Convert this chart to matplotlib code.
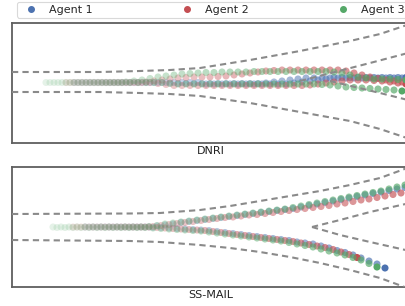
import matplotlib
matplotlib.use('Agg')
import matplotlib.pyplot as plt
import numpy as np
from matplotlib.colors import to_rgba
from matplotlib.lines import Line2D

# agent colours (seaborn "deep")
agent_names = ['Agent 1', 'Agent 2', 'Agent 3']
agent_colors = ['#4C72B0', '#C44E52', '#55A868']

# ---------------- DNRI panel (two rollouts per agent) ----------------
dnri_blue_a_x = [74, 82, 90, 98, 106, 114, 122, 130, 138, 146, 154, 162, 170, 178, 186, 194, 202, 210, 218, 226, 234, 242,
                 250, 258, 266, 274, 282, 290, 298, 306, 314, 322, 330, 338, 346, 354, 362, 370, 378, 386, 394, 402, 410]
dnri_blue_a_y = [82.5] * 12 + [83] + [83.5] * 11 + [83, 82, 81, 80, 79] + [78] * 14
dnri_blue_b_x = [78, 86, 94, 102, 110, 118, 126, 134, 142, 150, 158, 166, 174, 182, 190, 198, 206, 214, 222, 230, 238, 246,
                 254, 262, 270, 278, 286, 294, 302, 310, 318, 326, 334, 342, 350, 358, 366, 374, 382, 390, 398, 406]
dnri_blue_b_y = [82.5] * 16 + [84] * 11 + [83, 82, 81, 80, 79] + [77.5] * 10

dnri_red_a_x = [66, 74, 82, 90, 98, 106, 114, 122, 130, 138, 146, 154, 162, 170, 178, 186, 194, 202, 210, 218, 226, 234,
                242, 250, 258, 266, 274, 282, 290, 298, 306, 314, 322, 330, 338, 346, 354, 362, 370, 378, 386, 394, 402, 410]
dnri_red_a_y = ([82.5] * 10 + [82, 81, 80, 79, 78, 77.5] + [77] * 3 + [76.5, 76, 75, 74, 73, 72, 71, 70.5] + [70] * 8
                + [71, 73, 75, 77, 78.5, 80, 81, 82, 83])
dnri_red_b_x = [70, 78, 86, 94, 102, 110, 118, 126, 134, 142, 150, 158, 166, 174, 182, 190, 198, 206, 214, 222, 230, 238,
                246, 254, 262, 270, 278, 286, 294, 302, 310, 318, 326, 334, 342, 350, 358, 366, 374, 382, 390, 398, 406]
dnri_red_b_y = [82.5] * 11 + [83.5, 84.5] + [85.5] * 17 + [85, 84, 83, 82, 81, 80, 80, 80, 80.5, 81, 82, 83, 84]

dnri_green_a_x = [46, 54, 62, 70, 78, 86, 94, 102, 110, 118, 126, 134, 142, 150, 158, 166, 174, 182, 190, 198, 206, 214,
                  222, 230, 238, 246, 254, 262, 270, 278, 286, 294, 302, 310, 318, 326, 334, 342, 350, 358, 366, 374,
                  382, 390, 398, 406]
dnri_green_a_y = ([82.5] * 10 + [82, 81, 80, 78.5, 77, 76, 75, 74, 73.5, 73]
                  + [72.5, 72.5, 72, 72, 72, 72] + [71.5] * 10 + [72, 73, 75, 77, 78, 79, 79, 79, 79.5, 80])
dnri_green_b_x = [50, 58, 66, 74, 82, 90, 98, 106, 114, 122, 130, 138, 146, 154, 162, 170, 178, 186, 194, 202, 210, 218,
                  226, 234, 242, 250, 258, 266, 274, 282, 290, 298, 306, 314, 322, 330, 338, 346, 354, 362, 370, 378,
                  386, 394, 402]
dnri_green_b_y = [82.5] * 15 + [83.5] + [84] * 18 + [84.5, 85, 86, 87, 87.5, 88, 88.5, 89, 89.5, 90, 91]

# ---------------- SS-MAIL panel ----------------
mail_blue_a_x = [85, 93, 101, 109, 117, 125, 133, 141, 149, 157, 165, 173, 181, 189, 197, 205, 213, 221, 229, 237, 245,
                 253, 261, 269, 277, 285, 293, 301, 309, 317, 325, 333, 341, 349, 357, 365, 373, 381, 389, 397, 405,
                 413, 421]
mail_blue_a_y = ([227] * 9 + [226, 225, 224, 222.5, 221.5, 220.5, 219.5, 218.5, 217.5, 216.5, 215.5, 214.5, 213.5,
                  212.5, 211.5, 210.5, 209.5, 208.5, 207, 205.5, 204, 202.5, 201, 199.5, 198, 196.5, 195, 193.5,
                  192, 190.5, 189, 187.5, 186, 184.5])
mail_blue_b_x = [89, 97, 105, 113, 121, 129, 137, 145, 153, 161, 169, 177, 185, 193, 201, 209, 217, 225, 233, 241, 249,
                 257, 265, 273, 281, 289, 297, 305, 313, 321, 329, 337, 345, 353, 361, 369, 377, 385]
mail_blue_b_y = ([227] * 8 + [227.3, 227.5, 228, 228.5, 229, 229.5, 230, 230.5, 231.5, 232.5, 233.5, 234.5, 235.5,
                  236.5, 237.5, 238.5, 239.5, 240.5, 242, 243, 244, 246, 248, 250.5, 252.5, 255, 258, 261, 264, 268])

mail_red_a_x = [73, 81, 89, 97, 105, 113, 121, 129, 137, 145, 153, 161, 169, 177, 185, 193, 201, 209, 217, 225, 233, 241,
                249, 257, 265, 273, 281, 289, 297, 305, 313, 321, 329, 337, 345, 353, 361, 369, 377, 385, 393, 401,
                409, 417, 425]
mail_red_a_y = ([227] * 10 + [226.5, 225.5, 224.5, 223.5, 222.5, 221.5, 220.5, 219.5, 218.5, 217.5, 217, 216, 215,
                 214.5, 213.5, 212.5, 211.5, 210.5, 209.5, 208.5, 207.5, 206.5, 205.5, 204, 203, 201.5, 200, 199,
                 197.5, 196, 194.5, 193, 191.5, 190, 188.5])
mail_red_b_x = [77, 85, 93, 101, 109, 117, 125, 133, 141, 149, 157, 165, 173, 181, 189, 197, 205, 213, 221, 229, 237,
                245, 253, 261, 269, 277, 285, 293, 301, 309, 317, 325, 333, 341, 349, 357]
mail_red_b_y = ([227] * 10 + [227.5, 228, 228.5, 229, 229.5, 230, 230.5, 231.5, 232.5, 233.5, 234.5, 235.5, 236.5,
                 237.5, 238.5, 239.5, 240.5, 241.5, 243, 244.5, 246, 247.5, 249.5, 252, 254.5, 257.5])

mail_green_a_x = [53, 61, 69, 77, 85, 93, 101, 109, 117, 125, 133, 141, 149, 157, 165, 173, 181, 189, 197, 205, 213,
                  221, 229, 237, 245, 253, 261, 269, 277, 285, 293, 301, 309, 317, 325, 333, 341, 349, 357, 365, 373,
                  381, 389, 397, 405, 413, 421]
mail_green_a_y = ([227] * 12 + [226.5, 225.5, 224, 223, 222, 221, 220, 219, 218, 217, 216, 215, 214, 213, 212, 211,
                   210, 209, 207.5, 206, 204.5, 203, 201.5, 200, 198.5, 197, 195.5, 194, 192.5, 191, 189, 187, 185,
                   183, 181])
mail_green_b_x = [57, 65, 73, 81, 89, 97, 105, 113, 121, 129, 137, 145, 153, 161, 169, 177, 185, 193, 201, 209, 217,
                  225, 233, 241, 249, 257, 265, 273, 281, 289, 297, 305, 313, 321, 329, 337, 345, 353, 361, 369, 377]
mail_green_b_y = ([227.5] * 12 + [228, 228.5, 229, 229.5, 230, 230.5, 231, 232, 233, 234, 235, 236, 237, 238, 239,
                   240, 241, 242.5, 244, 245.5, 247, 249, 251, 253, 255, 257.5, 260, 263.5, 267])

# lane boundaries (dashed)
dnri_bounds = [
    ([12, 100, 140, 170, 200, 250, 300, 350, 380, 410], [72, 72, 71, 70, 68, 60, 51, 41, 34, 24]),
    ([12, 100, 140, 170, 200, 250, 300, 350, 380, 410], [92, 92, 93, 94, 96, 103, 112, 121, 129, 139]),
    ([300, 333, 370, 410], [81, 72.5, 63, 52.5]),
    ([330, 353, 380, 410], [81, 86.5, 93, 100.5]),
]
mail_bounds = [
    ([12, 130, 160, 200, 230, 260, 290, 320, 350, 380, 410], [214, 213.5, 213, 210, 206, 201, 196, 191, 185, 178, 167]),
    ([12, 130, 160, 200, 230, 260, 290, 320, 350, 380, 410], [240, 241, 242, 245, 248, 252, 257, 263, 270, 278, 289]),
    ([312, 340, 370, 410], [227, 220, 212, 203]),
    ([312, 340, 370, 410], [227, 235, 242, 251]),
]

panels = [
    ('DNRI', (143, 23), dnri_bounds,
     [[(dnri_blue_a_x, dnri_blue_a_y), (dnri_blue_b_x, dnri_blue_b_y)],
      [(dnri_red_a_x, dnri_red_a_y), (dnri_red_b_x, dnri_red_b_y)],
      [(dnri_green_a_x, dnri_green_a_y), (dnri_green_b_x, dnri_green_b_y)]]),
    ('SS-MAIL', (287, 167), mail_bounds,
     [[(mail_blue_a_x, mail_blue_a_y), (mail_blue_b_x, mail_blue_b_y)],
      [(mail_red_a_x, mail_red_a_y), (mail_red_b_x, mail_red_b_y)],
      [(mail_green_a_x, mail_green_a_y), (mail_green_b_x, mail_green_b_y)]]),
]

W, H = 406, 306
fig = plt.figure(figsize=(W / 100, H / 100), dpi=100)
fig.patch.set_facecolor('white')

ax_left, ax_right = 12, 410
for title, (ybot, ytop), bounds, agents in panels:
    ax = fig.add_axes([ax_left / W, 1 - ybot / H, (ax_right - ax_left) / W, (ybot - ytop) / H])
    ax.set_xlim(ax_left, ax_right)
    ax.set_ylim(ybot, ytop)
    ax.set_xticks([])
    ax.set_yticks([])
    for sp in ax.spines.values():
        sp.set_color('#5f5f5f')
        sp.set_linewidth(1.3)

    for color, trajs in zip(agent_colors, agents):
        for xs, ys in trajs:
            n = len(xs)
            rgba = np.tile(to_rgba(color), (n, 1))
            rgba[:, 3] = np.linspace(0.15, 0.7, n)
            rgba[-1, 3] = 1.0
            ax.scatter(xs, ys, s=26, c=rgba, linewidths=0, zorder=2)

    for bx, by in bounds:
        ax.plot(bx, by, color='#8a8a8a', lw=1.5, ls=(0, (3, 2)), zorder=3)

    ax.set_xlabel(title, fontsize=8, labelpad=2, color='#222222')

handles = [Line2D([], [], marker='o', ls='', color=c, markersize=4, label=nm)
           for c, nm in zip(agent_colors, agent_names)]
leg = fig.legend(handles=handles, loc='upper left', ncol=3, mode='expand',
                 bbox_to_anchor=(17 / W, 1 - 2 / H, 390 / W, 0.0), borderaxespad=0,
                 fontsize=8, borderpad=0.25, handletextpad=0.6, frameon=True, fancybox=True)
leg.get_frame().set_edgecolor('#d0d0d0')
leg.get_frame().set_linewidth(0.8)
for t in leg.get_texts():
    t.set_color('#262626')

fig.savefig('out.png', dpi=100)
